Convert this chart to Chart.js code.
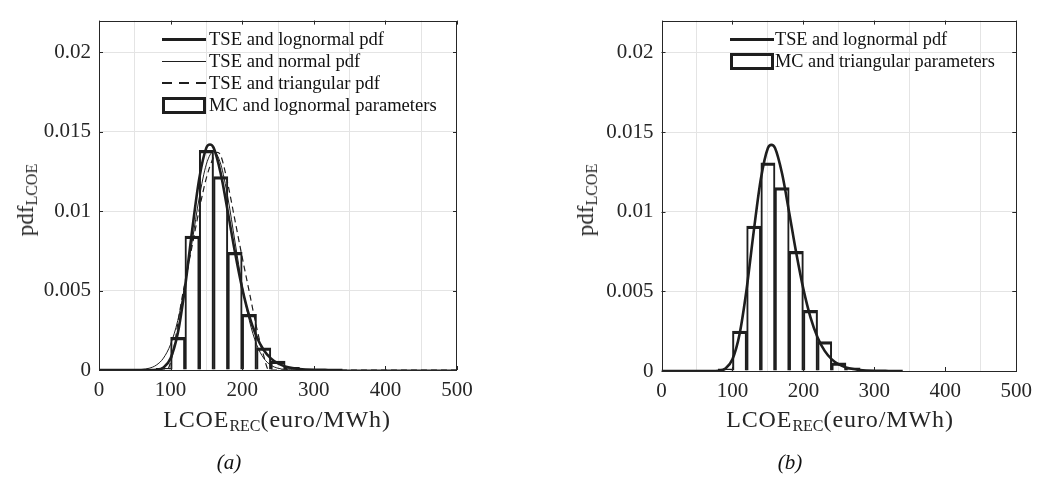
<!DOCTYPE html>
<html><head><meta charset="utf-8">
<script src="https://cdn.jsdelivr.net/npm/chart.js@4.4.1/dist/chart.umd.min.js"></script>
<style>
html,body{margin:0;padding:0;background:#fff;}
#wrap{position:relative;width:1040px;height:497px;overflow:hidden;font-family:"Liberation Serif","Times New Roman",serif;color:#262626;}
.pane{position:absolute;top:0;width:520px;height:497px;}
.leg{position:absolute;font-size:18.6px;color:#111;}
.row{display:flex;align-items:center;height:22px;white-space:nowrap;}
.sw{width:44px;box-sizing:border-box;flex:none;}
.ttl{position:absolute;font-size:23px;white-space:nowrap;color:#262626;transform:translate(-50%,-50%);}
.xt{font-size:24px;letter-spacing:0.9px;}
.ttl sub{font-size:16px;vertical-align:-4px;letter-spacing:0;}
.rot{transform:translate(-50%,-50%) rotate(-90deg);}
.cap{position:absolute;font-size:21px;font-style:italic;transform:translate(-50%,-50%);color:#111;}
</style></head>
<body>
<div id="wrap">
  <div class="pane" style="left:0"><canvas id="ca" width="520" height="497"></canvas></div>
  <div class="pane" style="left:520px"><canvas id="cb" width="520" height="497"></canvas></div>

  <div class="leg" style="left:162px;top:28px">
    <div class="row"><div class="sw" style="border-top:3px solid #1e1e1e;margin-right:3px"></div><span id="la0"></span></div>
    <div class="row"><div class="sw" style="border-top:1px solid #1e1e1e;margin-right:3px"></div><span id="la1"></span></div>
    <div class="row"><div class="sw" style="height:1.3px;background:repeating-linear-gradient(to right,#1e1e1e 0 10px,transparent 10px 17px);margin-right:3px"></div><span id="la2"></span></div>
    <div class="row"><div class="sw" style="height:17px;border:3px solid #1e1e1e;margin-right:3px"></div><span id="la3"></span></div>
  </div>
  <div class="leg" style="left:730px;top:28px;font-size:18.3px">
    <div class="row"><div class="sw" style="border-top:3px solid #1e1e1e;margin-right:1px"></div><span id="lb0"></span></div>
    <div class="row"><div class="sw" style="height:17px;border:3px solid #1e1e1e;margin-right:1px"></div><span id="lb1"></span></div>
  </div>

  <div class="ttl rot" style="left:27px;top:200px">pdf<sub>LCOE</sub></div>
  <div class="ttl rot" style="left:587px;top:200px">pdf<sub>LCOE</sub></div>
  <div class="ttl xt" style="left:277px;top:420px">LCOE<sub>REC</sub>(euro/MWh)</div>
  <div class="ttl xt" style="left:840px;top:420px">LCOE<sub>REC</sub>(euro/MWh)</div>
  <div class="cap" style="left:229px;top:462px">(a)</div>
  <div class="cap" style="left:790px;top:462px">(b)</div>
</div>
<script>
// ---- data ----
const legendA = ["TSE and lognormal pdf","TSE and normal pdf","TSE and triangular pdf","MC and lognormal parameters"];
const legendB = ["TSE and lognormal pdf","MC and triangular parameters"];

const binCenters = [70,90,110,130,150,170,190,210,230,250,270,290,310];
const histA = [0.00002,0.0001,0.00206,0.00844,0.01383,0.01218,0.00741,0.0035,0.0014,0.00056,0.00017,0.00006,0.00003];
const histB = [0.00001,0.00014,0.00251,0.0091,0.01307,0.01152,0.00751,0.00381,0.00185,0.00051,0.0002,0.00005,0.00002];

const logX = [0,40,50,60,70,80,90,100,110,120,130,140,150,155,160,170,180,190,200,210,220,230,240,250,260,270,280,300,320,340];
const lognormalY = [0,0,0,0,0.0000008,0.0000167,0.000149,0.000733,0.002307,0.005149,0.008765,0.01205,0.0140,0.0142,0.0140,0.01238,0.009941,0.007394,0.00514,0.003372,0.002107,0.001262,0.00073,0.00041,0.000224,0.00012,0.000063,0.0000166,0.000004,0];

const normX = [0,50,60,70,80,90,100,110,120,130,140,150,160,170,180,190,200,210,220,230,240,250,260,270,280,300,500];
const normalY = [0,0.0000103,0.000036,0.000111,0.000306,0.000747,0.001618,0.003112,0.005314,0.008056,0.010845,0.012963,0.013757,0.012963,0.010845,0.008056,0.005314,0.003112,0.001618,0.000747,0.000306,0.000111,0.000036,0.00001,0.0000025,0,0];

const triX = [0,95,100,105,110,115,120,130,140,150,160,165,170,180,190,200,210,220,230,237,500];
const triY = [0,0,0.0005,0.0015,0.0029,0.0043,0.0055,0.0078,0.0101,0.0121,0.0134,0.0137,0.0135,0.0117,0.0094,0.0071,0.0049,0.0027,0.0009,0,0];

const xTickStep = 100, yTickStep = 0.005;
// --------------------------------------

legendA.forEach((t,i)=>document.getElementById('la'+i).textContent=t);
legendB.forEach((t,i)=>document.getElementById('lb'+i).textContent=t);

const pts = (xs, ys) => xs.map((x,i)=>({x, y: ys[i]}));
const INK = '#1e1e1e';
const FONT = '"Liberation Serif","Times New Roman",serif';

const framePlugin = {
  id:'frame',
  afterDraw(chart){
    const {ctx, chartArea:a, scales:{x,y}} = chart;
    ctx.save();
    ctx.strokeStyle = '#262626';
    ctx.lineWidth = 1;
    ctx.strokeRect(Math.round(a.left)+0.5, Math.round(a.top)+0.5, Math.round(a.right-a.left)-1, Math.round(a.bottom-a.top));
    ctx.beginPath();
    x.ticks.forEach(t=>{
      const p = Math.round(x.getPixelForValue(t.value))+0.5;
      ctx.moveTo(p,a.bottom); ctx.lineTo(p,a.bottom-4);
      ctx.moveTo(p,a.top); ctx.lineTo(p,a.top+4);
    });
    y.ticks.forEach(t=>{
      const p = Math.round(y.getPixelForValue(t.value))+0.5;
      ctx.moveTo(a.left,p); ctx.lineTo(a.left+4,p);
      ctx.moveTo(a.right,p); ctx.lineTo(a.right-4,p);
    });
    ctx.stroke();
    ctx.restore();
  }
};

function makeChart(id, hist, lines, pad, yWidth){
  const datasets = [{
    type:'bar', label:'hist',
    data: pts(binCenters, hist),
    backgroundColor:'rgba(0,0,0,0)', borderColor:INK,
    borderWidth:{top:2.6,left:1.4,right:1.4,bottom:0},
    borderSkipped:false, barPercentage:1, categoryPercentage:1, order:2
  }].concat(lines);
  return new Chart(document.getElementById(id), {
    type:'line',
    data:{datasets},
    plugins:[framePlugin],
    options:{
      responsive:false, animation:false, devicePixelRatio:1,
      layout:{padding:pad},
      plugins:{legend:{display:false}, tooltip:{enabled:false}},
      elements:{point:{radius:0}},
      scales:{
        x:{type:'linear', min:0, max:500, offset:false,
           ticks:{stepSize:xTickStep, color:'#262626', font:{family:FONT,size:21}, padding:8, maxRotation:0},
           grid:{color:'#e4e4e4', drawTicks:false}, border:{display:false},
           afterFit(s){ s.height = 40; }},
        y:{type:'linear', min:0, max:0.022,
           ticks:{stepSize:yTickStep, includeBounds:false, color:'#262626', font:{family:FONT,size:21}, padding:8,
                  callback:v=> v===0 ? '0' : String(parseFloat(v.toFixed(4)))},
           grid:{color:'#e4e4e4', drawTicks:false}, border:{display:false},
           afterFit(s){ s.width = yWidth; }}
      }
    }
  });
}

const lineStyle = (data, w, dash) => ({type:'line', data, borderColor:INK, borderWidth:w, borderDash:dash||[],
  pointRadius:0, fill:false, cubicInterpolationMode:'monotone', order:1});

makeChart('ca', histA, [
  lineStyle(pts(logX, lognormalY), 2.6),
  lineStyle(pts(normX, normalY), 1),
  lineStyle(pts(triX, triY), 1.2, [6,4])
], {left:0, right:63, top:13, bottom:87}, 99);

makeChart('cb', histB, [
  lineStyle(pts(logX, lognormalY), 2.6)
], {left:42, right:20, top:13, bottom:86}, 99.5);
</script>
</body></html>
